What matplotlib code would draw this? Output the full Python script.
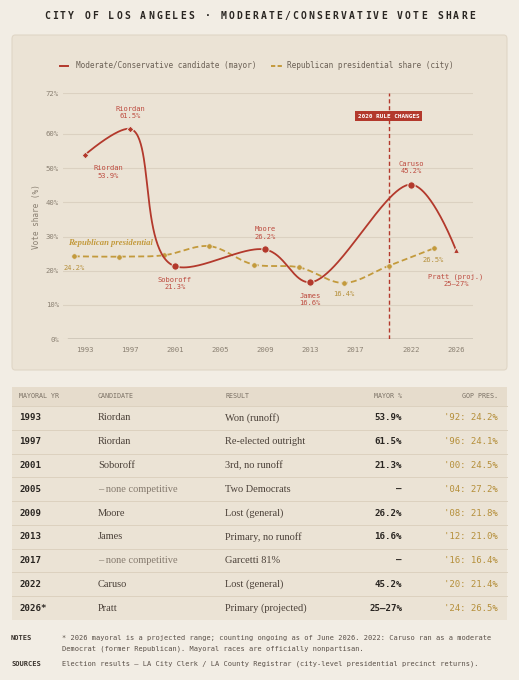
import numpy as np
import matplotlib
matplotlib.use("Agg")
import matplotlib.pyplot as plt
from matplotlib.patches import FancyBboxPatch, Rectangle

# ---------------- data ----------------
mayor_years = [1993, 1997, 2001, 2009, 2013, 2022, 2026]
mayor_share = [53.9, 61.5, 21.3, 26.2, 16.6, 45.2, 26.0]
mayor_names = ["Riordan", "Riordan", "Soboroff", "Moore", "James", "Caruso", "Pratt (proj.)"]
mayor_value_text = ["53.9%", "61.5%", "21.3%", "26.2%", "16.6%", "45.2%", "25–27%"]

pres_years = [1992, 1996, 2000, 2004, 2008, 2012, 2016, 2020, 2024]
pres_share = [24.2, 24.1, 24.5, 27.2, 21.8, 21.0, 16.4, 21.4, 26.5]

x_ticks = [1993, 1997, 2001, 2005, 2009, 2013, 2017, 2022, 2026]
y_ticks = [0, 10, 20, 30, 40, 50, 60, 72]
rule_year = 2020

tbl_years = ["1993", "1997", "2001", "2005", "2009", "2013", "2017", "2022", "2026*"]
tbl_candidates = ["Riordan", "Riordan", "Soboroff", "– none competitive", "Moore", "James",
                  "– none competitive", "Caruso", "Pratt"]
tbl_results = ["Won (runoff)", "Re-elected outright", "3rd, no runoff", "Two Democrats",
               "Lost (general)", "Primary, no runoff", "Garcetti 81%", "Lost (general)",
               "Primary (projected)"]
tbl_mayor = ["53.9%", "61.5%", "21.3%", "–", "26.2%", "16.6%", "–", "45.2%", "25–27%"]
tbl_gop = ["'92: 24.2%", "'96: 24.1%", "'00: 24.5%", "'04: 27.2%", "'08: 21.8%",
           "'12: 21.0%", "'16: 16.4%", "'20: 21.4%", "'24: 26.5%"]
tbl_headers = ["MAYORAL YR", "CANDIDATE", "RESULT", "MAYOR %", "GOP PRES."]

# ---------------- style ----------------
W, H = 519, 680
BG = "#f2ede4"
PANEL = "#ebe3d5"
PANEL_EDGE = "#e0d6c6"
RED = "#b3392c"
RED_TXT = "#bd4b3f"
GOLD = "#c39a3c"
GOLD_TXT = "#b58f3a"
GRID = "#dbd1c1"
GRAY = "#8a8072"
DARK = "#2a2622"
MONO = "DejaVu Sans Mono"
SERIF = "Liberation Serif"

fig = plt.figure(figsize=(W / 100, H / 100), dpi=100, facecolor=BG)


def fx(x):
    return x / W


def fy(y):
    return 1 - y / H


# title with letter spacing
title = "CITY OF LOS ANGELES · MODERATE/CONSERVATIVE VOTE SHARE"
n = len(title)
step = 8.02
for i, ch in enumerate(title):
    fig.text(fx(259.5 + (i - (n - 1) / 2) * step), fy(16), ch, ha="center", va="center",
             fontsize=7, fontweight="bold", family=MONO, color=DARK)

# chart panel
panel = FancyBboxPatch((fx(12), fy(370)), (495) / W, 335 / H,
                       boxstyle="round,pad=0,rounding_size=0.006",
                       transform=fig.transFigure, fc=PANEL, ec=PANEL_EDGE, lw=0.8, zorder=-2)
fig.patches.append(panel)

# legend (manual)
fig.add_artist(plt.Line2D([fx(60), fx(68)], [fy(66), fy(66)], color=RED, lw=1.4,
                          transform=fig.transFigure))
fig.text(fx(76), fy(66), "Moderate/Conservative candidate (mayor)", ha="left", va="center",
         fontsize=5.6, family=MONO, color="#6b6055")
fig.add_artist(plt.Line2D([fx(271), fx(282)], [fy(66), fy(66)], color=GOLD, lw=1.4,
                          ls=(0, (2.2, 1.2)), transform=fig.transFigure))
fig.text(fx(287), fy(66), "Republican presidential share (city)", ha="left", va="center",
         fontsize=5.6, family=MONO, color="#6b6055")

# axes
ax = fig.add_axes([fx(63), fy(339), (473 - 63) / W, (339 - 93) / H])
ax.set_facecolor("none")
px_per_year = (456 - 85) / 33
ax.set_xlim(1993 - (85 - 63) / px_per_year, 1993 + (473 - 85) / px_per_year)
ax.set_ylim(0, 72)
ax.set_yticks(y_ticks)
ax.set_yticklabels([f"{v}%" for v in y_ticks])
ax.set_xticks(x_ticks)
ax.set_xticklabels([str(v) for v in x_ticks])
for s in ["top", "right", "left", "bottom"]:
    ax.spines[s].set_visible(False)
ax.tick_params(length=0, labelsize=5.2, labelcolor=GRAY, pad=3)
ax.tick_params(axis="x", pad=6)
for lab in ax.get_xticklabels() + ax.get_yticklabels():
    lab.set_family(MONO)
ax.grid(axis="y", color=GRID, lw=0.8)
ax.set_axisbelow(True)
ax.axhline(0, xmin=0.012, color="#6f665c", lw=1.0, zorder=1)
fig.text(fx(37), fy(217), "Vote share (%)", rotation=90, ha="center", va="center",
         fontsize=5.6, family=MONO, color=GRAY)

ax.axvline(rule_year, color=RED, lw=1.0, ls=(0, (3, 2)), zorder=2)
ax.text(rule_year, (339 - 116) / 246 * 72, "2020 RULE CHANGES", ha="center", va="center",
        fontsize=4.3, fontweight="bold", family=MONO, color="white", zorder=6,
        bbox=dict(boxstyle="square,pad=0.5", fc=RED, ec="none"))


def catmull_rom(xs, ys, alpha=0.5, yweight=1.8, nseg=60):
    # centripetal Catmull-Rom computed in display space with a vertical weighting
    P = ax.transData.transform(np.column_stack([xs, ys]))
    P[:, 1] *= yweight
    N = len(P)
    out = [P[0]]
    eps = 1e-9
    for i in range(N - 1):
        p0 = P[i - 1] if i > 0 else P[i]
        p1, p2 = P[i], P[i + 1]
        p3 = P[i + 2] if i + 2 < N else P[i + 1]
        d01 = np.linalg.norm(p1 - p0)
        d12 = np.linalg.norm(p2 - p1)
        d23 = np.linalg.norm(p3 - p2)
        l01a, l12a, l23a = d01 ** alpha, d12 ** alpha, d23 ** alpha
        l01a2, l12a2, l23a2 = d01 ** (2 * alpha), d12 ** (2 * alpha), d23 ** (2 * alpha)
        c1 = p1.copy()
        if l01a > eps:
            a = 2 * l01a2 + 3 * l01a * l12a + l12a2
            nn = 3 * l01a * (l01a + l12a)
            c1 = (p1 * a - p0 * l12a2 + p2 * l01a2) / nn
        c2 = p2.copy()
        if l23a > eps:
            b = 2 * l23a2 + 3 * l23a * l12a + l12a2
            m = 3 * l23a * (l23a + l12a)
            c2 = (p2 * b + p1 * l23a2 - p3 * l12a2) / m
        t = np.linspace(0, 1, nseg)[1:, None]
        seg = ((1 - t) ** 3) * p1 + 3 * ((1 - t) ** 2) * t * c1 + 3 * (1 - t) * t ** 2 * c2 + t ** 3 * p2
        out.extend(seg)
    out = np.array(out)
    out[:, 1] /= yweight
    d = ax.transData.inverted().transform(out)
    return d[:, 0], d[:, 1]


# presidential line
sx, sy = catmull_rom(pres_years, pres_share)
ax.plot(sx, sy, color=GOLD, lw=1.3, ls=(0, (3.3, 1.8)), zorder=3, solid_capstyle="butt")
ax.scatter(pres_years, pres_share, s=16, color=GOLD, edgecolor=PANEL, linewidth=0.6, zorder=4)

# mayor line
mx, my = catmull_rom(mayor_years, mayor_share)
ax.plot(mx, my, color=RED, lw=1.3, zorder=4)
mk = ["D", "D", "o", "o", "o", "o", "^"]
msz = [12, 12, 28, 28, 28, 28, 18]
for x, y, m, s in zip(mayor_years, mayor_share, mk, msz):
    ax.scatter([x], [y], marker=m, s=s, color=RED, edgecolor=PANEL, linewidth=0.7, zorder=5)

# annotations (offsets in points)
offs = [(16.5, -12.3), (0, 11.7), (0, -12.2), (0, 11.8), (0, -12.3), (0, 12.2), (0, -21.8)]
for x, y, nm, vt, o in zip(mayor_years, mayor_share, mayor_names, mayor_value_text, offs):
    ax.annotate(f"{nm}\n{vt}", (x, y), xytext=o, textcoords="offset points",
                ha="center", va="center", fontsize=5.1, family=MONO, color=RED_TXT,
                linespacing=1.25, zorder=6)

gold_lab_idx = [0, 6, 8]
gold_offs = [(0, -8.6), (0, -8.0), (0, -8.3)]
for i, o in zip(gold_lab_idx, gold_offs):
    ax.annotate(f"{pres_share[i]}%", (pres_years[i], pres_share[i]), xytext=o,
                textcoords="offset points", ha="center", va="center", fontsize=5.1,
                family=MONO, color=GOLD_TXT, zorder=6)

ax.text(ax.get_xlim()[0] + 5 / px_per_year, (339 - 243) / 246 * 72, "Republican presidential",
        ha="left", va="center", fontsize=6.2, family=SERIF, style="italic",
        fontweight="bold", color=GOLD, zorder=6)

# ---------------- table ----------------
tx0, tx1 = 12, 507
hy0, hy1 = 387, 406
row_h = (620 - 406) / 9
fig.patches.append(Rectangle((fx(tx0), fy(hy1)), (tx1 - tx0) / W, (hy1 - hy0) / H,
                             transform=fig.transFigure, fc="#e6dccc", ec="none", zorder=-2))
fig.patches.append(Rectangle((fx(tx0), fy(620)), (tx1 - tx0) / W, (620 - hy1) / H,
                             transform=fig.transFigure, fc="#ebe3d5", ec="none", zorder=-2))
for i in range(9):
    yb = hy1 + i * row_h
    fig.add_artist(plt.Line2D([fx(tx0), fx(tx1)], [fy(yb), fy(yb)], color="#dcd1bf",
                              lw=0.7, transform=fig.transFigure))

col_x = [19, 98, 225, 402, 498]
col_ha = ["left", "left", "left", "right", "right"]
for hx, ha, txt in zip(col_x, col_ha, tbl_headers):
    fig.text(fx(hx), fy((hy0 + hy1) / 2), txt, ha=ha, va="center", fontsize=4.8,
             family=MONO, color="#7a7064")

for i in range(9):
    yc = fy(hy1 + (i + 0.5) * row_h)
    fig.text(fx(col_x[0]), yc, tbl_years[i], ha="left", va="center", fontsize=6.6,
             fontweight="bold", family=MONO, color=DARK)
    none = tbl_candidates[i].startswith("–")
    fig.text(fx(col_x[1]), yc, tbl_candidates[i], ha="left", va="center", fontsize=7.5,
             family=SERIF, color="#857a6e" if none else "#4a4038")
    fig.text(fx(col_x[2]), yc, tbl_results[i], ha="left", va="center", fontsize=7.5,
             family=SERIF, color="#4a4038")
    fig.text(fx(col_x[3]), yc, tbl_mayor[i], ha="right", va="center", fontsize=6.6,
             fontweight="bold", family=MONO, color=DARK)
    fig.text(fx(col_x[4]), yc, tbl_gop[i], ha="right", va="center", fontsize=6.5,
             family=MONO, color=GOLD_TXT)

# ---------------- notes ----------------
NOTE_C = "#5a5048"
fig.text(fx(11), fy(638), "NOTES", ha="left", va="center", fontsize=5.0, fontweight="bold",
         family=MONO, color="#3a332d")
fig.text(fx(62), fy(638), "* 2026 mayoral is a projected range; counting ongoing as of June 2026. "
         "2022: Caruso ran as a moderate", ha="left", va="center", fontsize=5.0,
         family=MONO, color=NOTE_C)
fig.text(fx(62), fy(649), "Democrat (former Republican). Mayoral races are officially nonpartisan.",
         ha="left", va="center", fontsize=5.0, family=MONO, color=NOTE_C)
fig.text(fx(11), fy(664), "SOURCES", ha="left", va="center", fontsize=5.0, fontweight="bold",
         family=MONO, color="#3a332d")
fig.text(fx(62), fy(664), "Election results – LA City Clerk / LA County Registrar "
         "(city-level presidential precinct returns).", ha="left", va="center", fontsize=5.0,
         family=MONO, color=NOTE_C)

fig.savefig("out.png", dpi=100, facecolor=BG)
